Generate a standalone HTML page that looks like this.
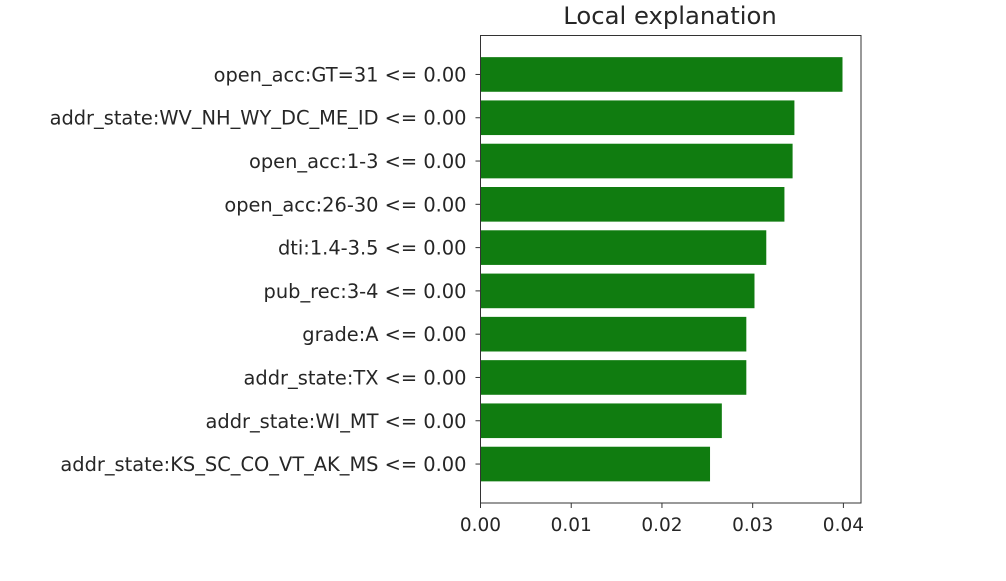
<!DOCTYPE html>
<html><head><meta charset="utf-8"><style>
body{margin:0;background:#fff;}
svg text{font-family:"DejaVu Sans","Liberation Sans",sans-serif;fill:#262626;}
</style></head><body>
<svg id="chart" width="1006" height="576">
<text x="670" y="24" text-anchor="middle" font-size="24.3">Local explanation</text>
<g id="bars"></g>
<g id="yticks"></g>
<g id="xticks"></g>
<rect x="480.5" y="35.5" width="380.5" height="467.5" fill="none" stroke="#333" stroke-width="1"/>
</svg>
<script>
const categories=["open_acc:GT=31 <= 0.00","addr_state:WV_NH_WY_DC_ME_ID <= 0.00","open_acc:1-3 <= 0.00","open_acc:26-30 <= 0.00","dti:1.4-3.5 <= 0.00","pub_rec:3-4 <= 0.00","grade:A <= 0.00","addr_state:TX <= 0.00","addr_state:WI_MT <= 0.00","addr_state:KS_SC_CO_VT_AK_MS <= 0.00"];
const values=[0.0399,0.0346,0.0344,0.0335,0.0315,0.0302,0.0293,0.0293,0.0266,0.0253];
const xTicks=[0,0.01,0.02,0.03,0.04];
const xTickLabels=["0.00","0.01","0.02","0.03","0.04"];
const NS="http://www.w3.org/2000/svg";
const L=480.5,R=861,T=35.5,B=503,xMax=0.04194;
const x=v=>L+v/xMax*(R-L);
const y=i=>T+(i+0.9)*(B-T)/(categories.length+0.8);
const step=(B-T)/(categories.length+0.8);
const bars=document.getElementById('bars'),yt=document.getElementById('yticks'),xt=document.getElementById('xticks');
categories.forEach((c,i)=>{
  const r=document.createElementNS(NS,'rect');
  r.setAttribute('x',L);r.setAttribute('y',y(i)-step*0.4);
  r.setAttribute('width',x(values[i])-L);r.setAttribute('height',step*0.8);
  r.setAttribute('fill','#107c10');
  
  
  bars.appendChild(r);
  const tk=document.createElementNS(NS,'line');
  tk.setAttribute('x1',L-5);tk.setAttribute('x2',L);tk.setAttribute('y1',y(i));tk.setAttribute('y2',y(i));tk.setAttribute('stroke','#333');
  
  
  yt.appendChild(tk);
  const t=document.createElementNS(NS,'text');
  t.setAttribute('x',L-14);t.setAttribute('y',y(i)+7);t.setAttribute('text-anchor','end');t.setAttribute('font-size','19.4');
  t.textContent=c;
  
  
  yt.appendChild(t);
});
xTicks.forEach((v,i)=>{
  const tk=document.createElementNS(NS,'line');
  tk.setAttribute('x1',x(v));tk.setAttribute('x2',x(v));tk.setAttribute('y1',B);tk.setAttribute('y2',B+5);tk.setAttribute('stroke','#333');
  
  
  xt.appendChild(tk);
  const t=document.createElementNS(NS,'text');
  t.setAttribute('x',x(v));t.setAttribute('y',B+28);t.setAttribute('text-anchor','middle');t.setAttribute('font-size','18.5');
  t.textContent=xTickLabels[i];
  
  
  xt.appendChild(t);
});
</script>
</body></html>
